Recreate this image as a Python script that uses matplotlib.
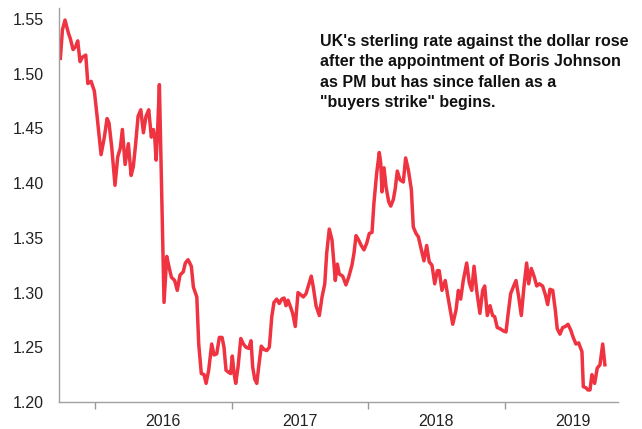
import matplotlib
matplotlib.use("Agg")
import matplotlib.pyplot as plt
from matplotlib.ticker import FixedLocator, NullFormatter

years = [2015.746, 2015.761, 2015.780, 2015.805, 2015.819, 2015.839, 2015.859, 2015.873, 2015.890, 2015.907,
         2015.932, 2015.947, 2015.971, 2015.995, 2016.015, 2016.044, 2016.068, 2016.088, 2016.102, 2016.122,
         2016.146, 2016.166, 2016.185, 2016.200, 2016.220, 2016.244, 2016.264, 2016.280, 2016.295, 2016.315,
         2016.335, 2016.354, 2016.373, 2016.393, 2016.412, 2016.427, 2016.437, 2016.447, 2016.456, 2016.471,
         2016.505, 2016.525, 2016.544, 2016.559, 2016.583, 2016.602, 2016.622, 2016.646, 2016.661, 2016.681,
         2016.705, 2016.720, 2016.745, 2016.759, 2016.778, 2016.798, 2016.813, 2016.832, 2016.854, 2016.871,
         2016.891, 2016.910, 2016.930, 2016.944, 2016.959, 2016.979, 2016.993, 2017.005, 2017.018, 2017.030,
         2017.047, 2017.067, 2017.086, 2017.105, 2017.125, 2017.142, 2017.154, 2017.169, 2017.184, 2017.198,
         2017.217, 2017.237, 2017.257, 2017.276, 2017.294, 2017.310, 2017.330, 2017.349, 2017.367, 2017.384,
         2017.398, 2017.413, 2017.428, 2017.447, 2017.466, 2017.486, 2017.506, 2017.525, 2017.545, 2017.564,
         2017.583, 2017.598, 2017.618, 2017.642, 2017.662, 2017.682, 2017.696, 2017.715, 2017.735, 2017.745,
         2017.759, 2017.774, 2017.788, 2017.813, 2017.837, 2017.857, 2017.881, 2017.896, 2017.911, 2017.930,
         2017.949, 2017.969, 2017.989, 2018.008, 2018.028, 2018.042, 2018.062, 2018.081, 2018.092, 2018.101,
         2018.116, 2018.130, 2018.150, 2018.165, 2018.184, 2018.198, 2018.213, 2018.233, 2018.257, 2018.274,
         2018.294, 2018.316, 2018.330, 2018.350, 2018.367, 2018.384, 2018.408, 2018.428, 2018.447, 2018.467,
         2018.487, 2018.506, 2018.520, 2018.540, 2018.564, 2018.584, 2018.619, 2018.643, 2018.660, 2018.677,
         2018.696, 2018.721, 2018.740, 2018.758, 2018.775, 2018.794, 2018.818, 2018.838, 2018.853, 2018.872,
         2018.892, 2018.911, 2018.926, 2018.945, 2018.965, 2018.989, 2019.009, 2019.023, 2019.043, 2019.062,
         2019.082, 2019.102, 2019.121, 2019.141, 2019.160, 2019.175, 2019.194, 2019.214, 2019.234, 2019.253,
         2019.277, 2019.297, 2019.314, 2019.331, 2019.351, 2019.370, 2019.384, 2019.404, 2019.424, 2019.443,
         2019.463, 2019.482, 2019.501, 2019.521, 2019.541, 2019.565, 2019.575, 2019.594, 2019.609, 2019.624,
         2019.638, 2019.658, 2019.677, 2019.697, 2019.717, 2019.733]

gbp_usd = [1.514, 1.540, 1.549, 1.537, 1.532, 1.522, 1.525, 1.530, 1.511, 1.515,
           1.517, 1.491, 1.493, 1.484, 1.461, 1.426, 1.442, 1.459, 1.455, 1.433,
           1.398, 1.424, 1.432, 1.449, 1.417, 1.436, 1.407, 1.415, 1.433, 1.461,
           1.467, 1.446, 1.461, 1.467, 1.442, 1.449, 1.442, 1.421, 1.442, 1.490,
           1.291, 1.333, 1.322, 1.314, 1.311, 1.302, 1.316, 1.319, 1.327, 1.330,
           1.324, 1.305, 1.296, 1.253, 1.226, 1.225, 1.217, 1.229, 1.253, 1.243,
           1.244, 1.259, 1.259, 1.250, 1.229, 1.227, 1.226, 1.242, 1.226, 1.217,
           1.232, 1.258, 1.253, 1.250, 1.249, 1.256, 1.232, 1.221, 1.217, 1.232,
           1.251, 1.248, 1.247, 1.250, 1.278, 1.291, 1.294, 1.290, 1.294, 1.295,
           1.288, 1.293, 1.288, 1.281, 1.269, 1.300, 1.298, 1.296, 1.299, 1.307,
           1.315, 1.305, 1.288, 1.279, 1.296, 1.308, 1.336, 1.358, 1.348, 1.333,
           1.311, 1.326, 1.317, 1.315, 1.307, 1.314, 1.325, 1.336, 1.352, 1.348,
           1.343, 1.339, 1.345, 1.354, 1.355, 1.382, 1.409, 1.428, 1.418, 1.392,
           1.414, 1.397, 1.383, 1.379, 1.385, 1.395, 1.411, 1.403, 1.401, 1.423,
           1.412, 1.394, 1.360, 1.354, 1.351, 1.342, 1.329, 1.343, 1.328, 1.325,
           1.308, 1.320, 1.320, 1.302, 1.311, 1.296, 1.271, 1.284, 1.302, 1.294,
           1.311, 1.327, 1.309, 1.302, 1.324, 1.302, 1.281, 1.302, 1.306, 1.279,
           1.288, 1.279, 1.278, 1.268, 1.267, 1.265, 1.264, 1.279, 1.299, 1.305,
           1.311, 1.296, 1.279, 1.306, 1.327, 1.308, 1.322, 1.315, 1.306, 1.308,
           1.306, 1.298, 1.289, 1.303, 1.302, 1.284, 1.267, 1.262, 1.268, 1.269,
           1.271, 1.266, 1.259, 1.253, 1.254, 1.246, 1.214, 1.213, 1.211, 1.211,
           1.225, 1.217, 1.231, 1.234, 1.253, 1.234]

year_ticks = [2016, 2017, 2018, 2019]
year_labels = ["2016", "2017", "2018", "2019"]
y_ticks = [1.20, 1.25, 1.30, 1.35, 1.40, 1.45, 1.50, 1.55]
note = ("UK's sterling rate against the dollar rose\n"
        "after the appointment of Boris Johnson\n"
        "as PM but has since fallen as a\n"
        "\"buyers strike\" begins.")

plt.rcParams['font.family'] = ['Liberation Sans', 'DejaVu Sans']

fig = plt.figure(figsize=(6.42, 4.29), dpi=100)
ax = fig.add_axes([59/642, 1 - 402/429, (618-59)/642, (402-8)/429])

ax.plot(years, gbp_usd, color='#EF3340', lw=2.5, solid_joinstyle='round')

ax.set_xlim(2015.736, 2019.829)
ax.set_ylim(1.20, 1.560)

ax.set_yticks(y_ticks)
ax.set_yticklabels([f"{v:.2f}" for v in y_ticks])
ax.tick_params(axis='y', length=0, pad=11, labelsize=11.5, colors='#222222')

ax.xaxis.set_major_locator(FixedLocator(year_ticks))
ax.xaxis.set_major_formatter(NullFormatter())
ax.xaxis.set_minor_locator(FixedLocator([y + 0.5 for y in year_ticks]))
ax.set_xticklabels(year_labels, minor=True)
ax.tick_params(axis='x', which='major', length=5, width=1, color='#999999', direction='out')
ax.tick_params(axis='x', which='minor', length=0, pad=9, labelsize=11.5, labelcolor='#222222')

for s in ['top', 'right']:
    ax.spines[s].set_visible(False)
for s in ['left', 'bottom']:
    ax.spines[s].set_color('#a0a0a0')
    ax.spines[s].set_linewidth(1)

fig.text(320/642, 1 - 34/429, note, ha='left', va='top', fontsize=11.5,
         fontweight='bold', color='#111111', linespacing=1.45)

fig.savefig('out.png', dpi=100)
